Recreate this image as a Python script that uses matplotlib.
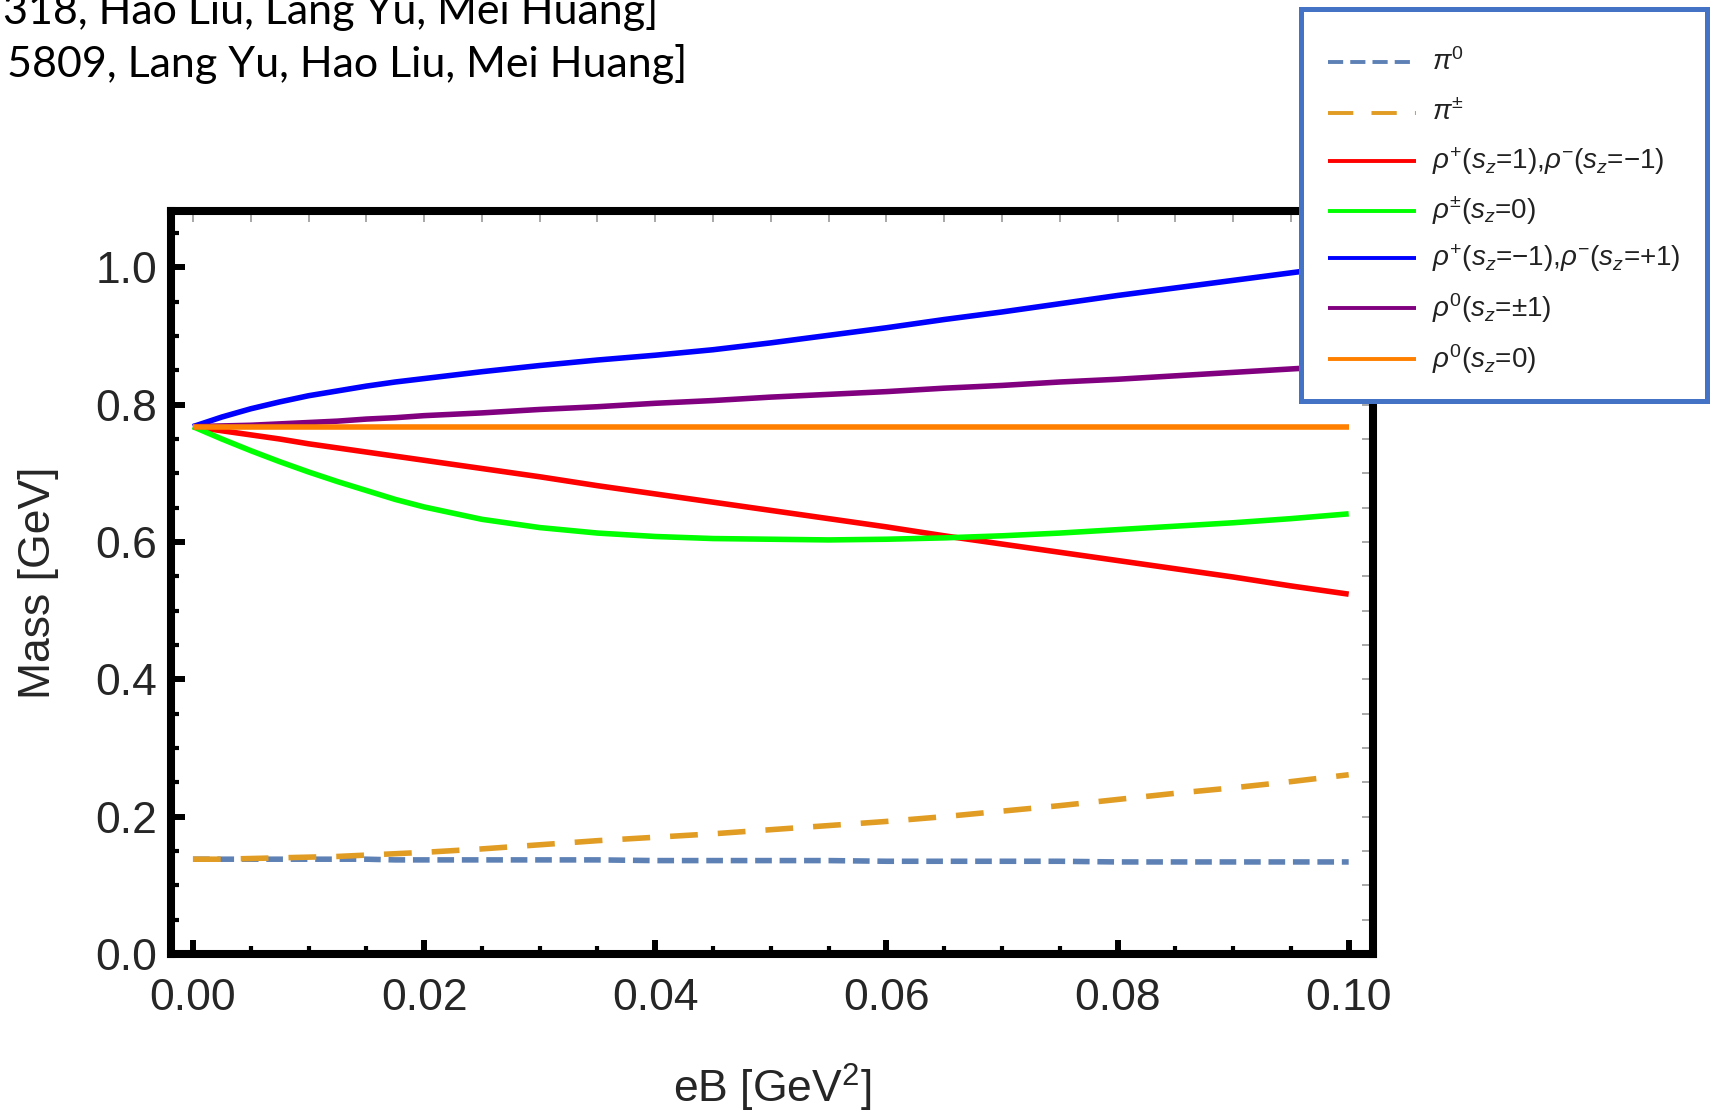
import matplotlib
matplotlib.use("Agg")
import matplotlib.pyplot as plt
from matplotlib.ticker import MultipleLocator

# Masy mezonów w polu magnetycznym
eB = [0.0, 0.0025, 0.005, 0.0075, 0.01, 0.0125, 0.015, 0.0175, 0.02, 0.025, 0.03, 0.035,
      0.04, 0.045, 0.05, 0.055, 0.06, 0.065, 0.07, 0.075, 0.08, 0.085, 0.09, 0.095, 0.1]

pi0 = [0.138, 0.138, 0.138, 0.138, 0.138, 0.138, 0.138, 0.137, 0.137, 0.137, 0.137, 0.137,
       0.136, 0.136, 0.136, 0.136, 0.135, 0.135, 0.135, 0.135, 0.134, 0.134, 0.134, 0.134, 0.134]
pi_pm = [0.138, 0.138, 0.139, 0.140, 0.141, 0.142, 0.144, 0.146, 0.148, 0.153, 0.159, 0.165,
         0.170, 0.175, 0.181, 0.187, 0.193, 0.200, 0.208, 0.216, 0.225, 0.234, 0.242, 0.251, 0.261]
rho_pm_par = [0.768, 0.762, 0.756, 0.750, 0.743, 0.737, 0.731, 0.725, 0.719, 0.707, 0.695, 0.682,
              0.670, 0.658, 0.646, 0.634, 0.622, 0.609, 0.597, 0.585, 0.573, 0.561, 0.549, 0.536, 0.524]
rho_pm_0 = [0.768, 0.750, 0.733, 0.717, 0.702, 0.688, 0.675, 0.662, 0.651, 0.633, 0.621, 0.613,
            0.608, 0.605, 0.604, 0.603, 0.604, 0.606, 0.609, 0.613, 0.618, 0.623, 0.628, 0.634, 0.641]
rho_pm_anti = [0.768, 0.782, 0.794, 0.804, 0.813, 0.820, 0.827, 0.833, 0.838, 0.848, 0.857, 0.865,
               0.872, 0.880, 0.890, 0.901, 0.912, 0.924, 0.935, 0.947, 0.959, 0.970, 0.981, 0.992, 1.003]
rho0_pm1 = [0.768, 0.769, 0.770, 0.772, 0.774, 0.776, 0.779, 0.781, 0.784, 0.788, 0.793, 0.797,
            0.802, 0.806, 0.811, 0.815, 0.819, 0.824, 0.828, 0.833, 0.837, 0.842, 0.847, 0.852, 0.857]
rho0_0 = [0.768] * len(eB)

labels = [r'$\pi^0$', r'$\pi^{\pm}$',
          r'$\rho^{+}$($s_z$=1),$\rho^{-}$($s_z$=−1)',
          r'$\rho^{\pm}$($s_z$=0)',
          r'$\rho^{+}$($s_z$=−1),$\rho^{-}$($s_z$=+1)',
          r'$\rho^{0}$($s_z$=±1)',
          r'$\rho^{0}$($s_z$=0)']
series = [pi0, pi_pm, rho_pm_par, rho_pm_0, rho_pm_anti, rho0_pm1, rho0_0]
colors = ['#5E81B5', '#E19C24', '#FF0000', '#00FF00', '#0000FF', '#800080', '#FF8000']
dashes = [(3.0, 1.4), (5.0, 3.6), None, None, None, None, None]

plt.rcParams['font.family'] = ['Liberation Sans', 'DejaVu Sans']
plt.rcParams['mathtext.fontset'] = 'custom'
plt.rcParams['mathtext.rm'] = 'Liberation Sans'
plt.rcParams['mathtext.it'] = 'Liberation Sans:italic'

fig = plt.figure(figsize=(17.1, 11.16), dpi=100)
ax = fig.add_axes([0.1, 0.1452, 0.7029, 0.6657])

for y, c, d in zip(series, colors, dashes):
    kw = dict(color=c, lw=4.0, solid_capstyle='butt', dash_capstyle='butt',
              solid_joinstyle='round')
    if d:
        kw['dashes'] = d
    ax.plot(eB, y, **kw)

ax.set_xlim(-0.0019, 0.1021)
ax.set_ylim(0, 1.082)
for s in ax.spines.values():
    s.set_linewidth(5.8)
ax.xaxis.set_major_locator(MultipleLocator(0.02))
ax.xaxis.set_minor_locator(MultipleLocator(0.005))
ax.yaxis.set_major_locator(MultipleLocator(0.2))
ax.yaxis.set_minor_locator(MultipleLocator(0.05))
ax.xaxis.set_major_formatter(lambda v, p: f'{v:.2f}')
ax.yaxis.set_major_formatter(lambda v, p: f'{v:.1f}')
ax.tick_params(which='major', direction='in', length=10, width=4.3, labelsize=32,
               labelcolor='#262626')
ax.tick_params(which='minor', direction='in', length=5.5, width=3)
ax.tick_params(axis='x', which='major', pad=17)
ax.tick_params(axis='y', which='major', pad=10)

# cienkie szare kreski na górze i po prawej
top = ax.secondary_xaxis('top')
top.xaxis.set_major_locator(MultipleLocator(0.005))
top.tick_params(direction='in', length=8, width=1.2, color='#999999', labeltop=False)
top.spines['top'].set_visible(False)
right = ax.secondary_yaxis('right')
right.yaxis.set_major_locator(MultipleLocator(0.05))
right.tick_params(direction='in', length=8, width=1.2, color='#999999', labelright=False)
right.spines['right'].set_visible(False)

ax.set_xlabel('eB [GeV$^2$]', fontsize=32, color='#262626')
ax.xaxis.label.set_va('baseline')
ax.xaxis.set_label_coords(0.5, -0.2005)
ax.set_ylabel('Mass [GeV]', fontsize=32, color='#262626')
ax.yaxis.set_label_coords(-0.0928, 0.5)

# nagłówek (przycięty)
fig.text(687 / 1710, 1 - 77 / 1116, '5809, Lang Yu, Hao Liu, Mei Huang]', ha='right',
         va='baseline', fontsize=31, family='Lato')
fig.text(658 / 1710, 1 - 24 / 1116, '318, Hao Liu, Lang Yu, Mei Huang]', ha='right',
         va='baseline', fontsize=31, family='Lato')

# legenda w niebieskiej ramce
lax = fig.add_axes([0.7608, 0.6407, 0.2374, 0.3508])
lax.set_xlim(0, 406)
lax.set_ylim(391.5, 0)
lax.set_xticks([])
lax.set_yticks([])
for s in lax.spines.values():
    s.set_color('#4472C4')
    s.set_linewidth(3.6)
rows = [52.5, 103.5, 151.5, 201.5, 248.5, 298.5, 349.5]
for yr, lab, c, d in zip(rows, labels, colors, dashes):
    kw = dict(color=c, lw=2.8, solid_capstyle='butt', dash_capstyle='butt')
    if d:
        kw['dashes'] = (d[0] * 1.3, d[1] * 1.3)
    lax.plot([27, 115], [yr, yr], **kw)
    lax.text(131, yr, lab, va='center', ha='left', fontsize=20, color='#222222')

fig.savefig('out.png', dpi=100)
